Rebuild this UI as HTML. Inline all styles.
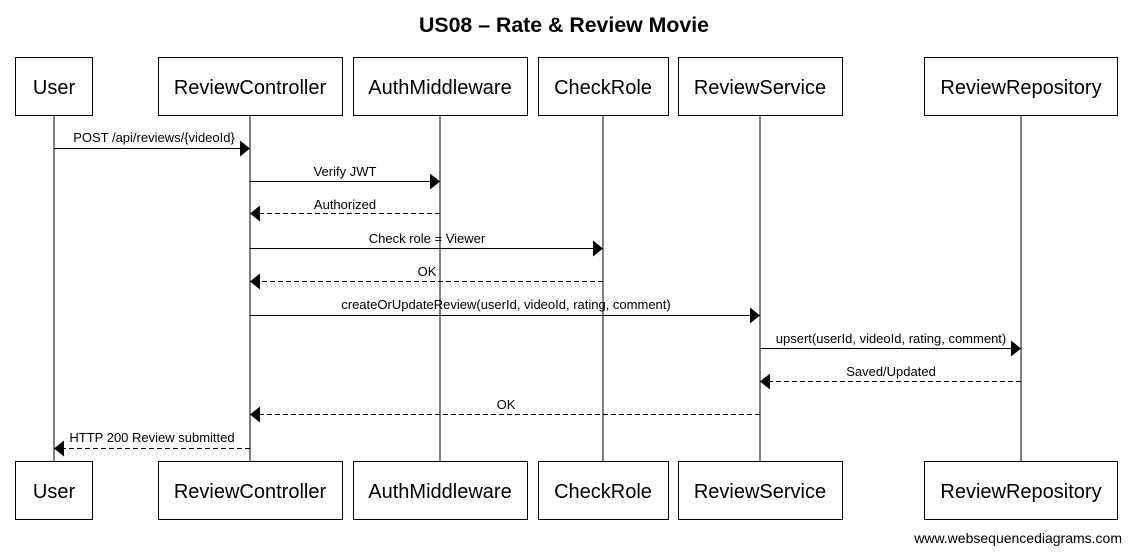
<!DOCTYPE html>
<html><head><meta charset="utf-8"><style>
html,body{margin:0;padding:0;background:#fff;}
svg{display:block;font-family:"Liberation Sans",Arial,sans-serif;}
</style></head><body>
<svg width="1132" height="552" viewBox="0 0 1132 552" xmlns="http://www.w3.org/2000/svg">
<text x="564" y="32" text-anchor="middle" font-size="21" font-weight="bold" textLength="290" lengthAdjust="spacingAndGlyphs">US08 – Rate &amp; Review Movie</text>
<g stroke="#000" stroke-width="1" fill="#fff">
<line x1="54" y1="115" x2="54" y2="462"/>
<line x1="250" y1="115" x2="250" y2="462"/>
<line x1="440" y1="115" x2="440" y2="462"/>
<line x1="603" y1="115" x2="603" y2="462"/>
<line x1="760" y1="115" x2="760" y2="462"/>
<line x1="1021" y1="115" x2="1021" y2="462"/>
<rect x="15.5" y="57.5" width="77" height="58"/>
<rect x="158.5" y="57.5" width="184" height="58"/>
<rect x="353.5" y="57.5" width="174" height="58"/>
<rect x="538.5" y="57.5" width="130" height="58"/>
<rect x="678.5" y="57.5" width="164" height="58"/>
<rect x="924.5" y="57.5" width="193" height="58"/>
<rect x="15.5" y="461.5" width="77" height="58"/>
<rect x="158.5" y="461.5" width="184" height="58"/>
<rect x="353.5" y="461.5" width="174" height="58"/>
<rect x="538.5" y="461.5" width="130" height="58"/>
<rect x="678.5" y="461.5" width="164" height="58"/>
<rect x="924.5" y="461.5" width="193" height="58"/>
</g>
<g font-size="20" text-anchor="middle">
<text x="54" y="94">User</text><text x="250" y="94">ReviewController</text><text x="440" y="94">AuthMiddleware</text><text x="603" y="94">CheckRole</text><text x="760" y="94">ReviewService</text><text x="1021" y="94">ReviewRepository</text>
<text x="54" y="498">User</text><text x="250" y="498">ReviewController</text><text x="440" y="498">AuthMiddleware</text><text x="603" y="498">CheckRole</text><text x="760" y="498">ReviewService</text><text x="1021" y="498">ReviewRepository</text>
</g>
<g stroke="#000" stroke-width="1" fill="none">
<line x1="54" y1="148.5" x2="241" y2="148.5"/>
<line x1="250" y1="181.5" x2="431" y2="181.5"/>
<line x1="440" y1="213.5" x2="259" y2="213.5" stroke-dasharray="5,3"/>
<line x1="250" y1="248.5" x2="594" y2="248.5"/>
<line x1="603" y1="281.5" x2="259" y2="281.5" stroke-dasharray="5,3"/>
<line x1="250" y1="315.5" x2="751" y2="315.5"/>
<line x1="760" y1="348.5" x2="1012" y2="348.5"/>
<line x1="1021" y1="381.5" x2="769" y2="381.5" stroke-dasharray="5,3"/>
<line x1="760" y1="414.5" x2="259" y2="414.5" stroke-dasharray="5,3"/>
<line x1="250" y1="448.5" x2="63" y2="448.5" stroke-dasharray="5,3"/>
</g>
<g fill="#000">
<polygon points="250,148.5 240,140.5 240,156.5"/>
<polygon points="440,181.5 430,173.5 430,189.5"/>
<polygon points="250,213.5 260,205.5 260,221.5"/>
<polygon points="603,248.5 593,240.5 593,256.5"/>
<polygon points="250,281.5 260,273.5 260,289.5"/>
<polygon points="760,315.5 750,307.5 750,323.5"/>
<polygon points="1021,348.5 1011,340.5 1011,356.5"/>
<polygon points="760,381.5 770,373.5 770,389.5"/>
<polygon points="250,414.5 260,406.5 260,422.5"/>
<polygon points="54,448.5 64,440.5 64,456.5"/>
</g>
<g font-size="13" text-anchor="middle">
<text x="154" y="142">POST /api/reviews/{videoId}</text>
<text x="345" y="176">Verify JWT</text>
<text x="345" y="209">Authorized</text>
<text x="427" y="243">Check role = Viewer</text>
<text x="427" y="276">OK</text>
<text x="506" y="309">createOrUpdateReview(userId, videoId, rating, comment)</text>
<text x="891" y="343">upsert(userId, videoId, rating, comment)</text>
<text x="891" y="376">Saved/Updated</text>
<text x="506" y="409">OK</text>
<text x="152" y="442">HTTP 200 Review submitted</text>
</g>
<text x="1122" y="543" font-size="14" text-anchor="end">www.websequencediagrams.com</text>
</svg>
</body></html>
